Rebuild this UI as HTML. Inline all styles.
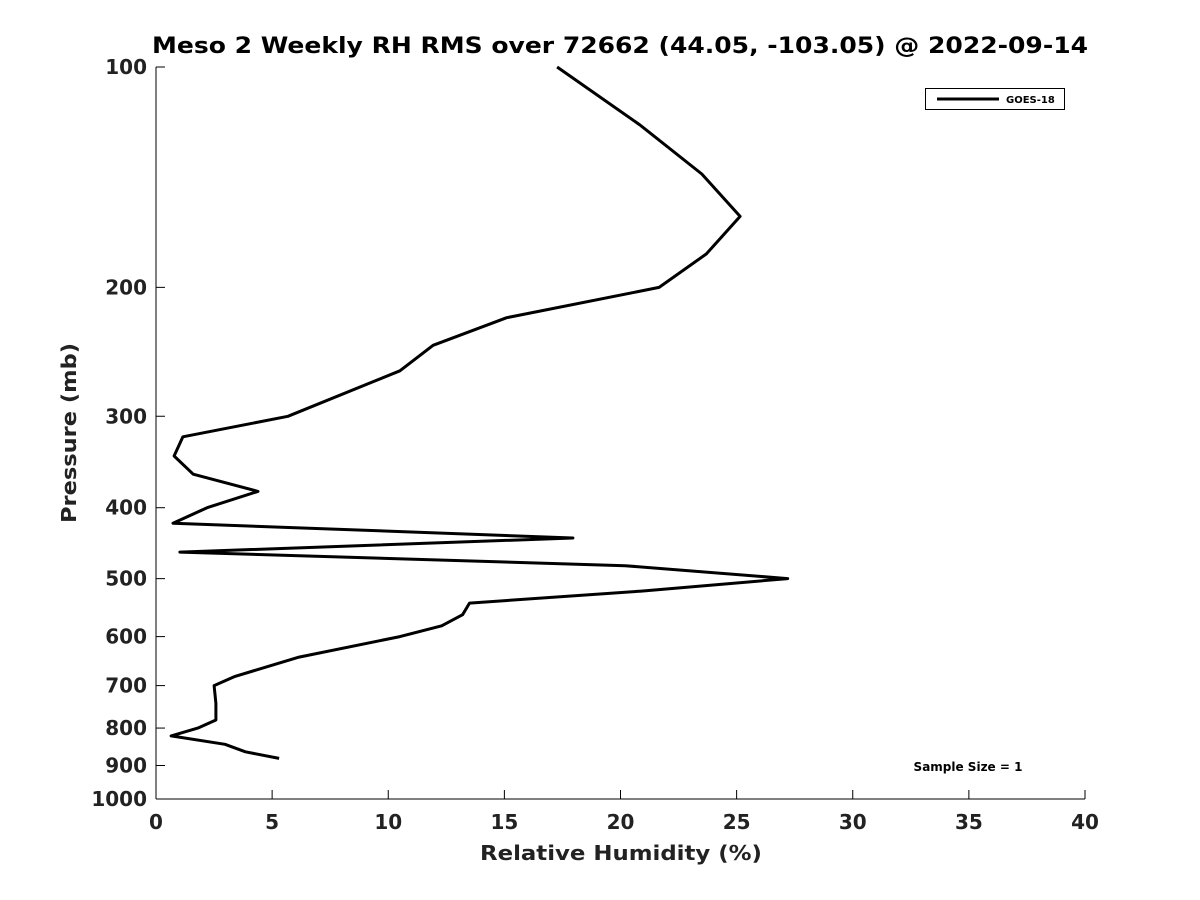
<!DOCTYPE html>
<html><head><meta charset="utf-8"><style>body{margin:0;background:#fff}svg{display:block;font-family:"DejaVu Sans","Liberation Sans",sans-serif}</style></head>
<body>
<svg id="chart" width="1200" height="900" viewBox="0 0 1200 900">
<text x="620" y="53" text-anchor="middle" font-size="22" font-weight="bold" textLength="936" lengthAdjust="spacingAndGlyphs">Meso 2 Weekly RH RMS over 72662 (44.05, -103.05) @ 2022-09-14</text>
<g id="axes"></g>
<path id="line" fill="none" stroke="#000" stroke-width="3" stroke-linejoin="round"/>
<text x="621" y="860" text-anchor="middle" font-size="20" font-weight="bold" fill="#222" textLength="282" lengthAdjust="spacingAndGlyphs">Relative Humidity (%)</text>
<text transform="translate(76,433) rotate(-90)" text-anchor="middle" font-size="20" font-weight="bold" fill="#222" textLength="180" lengthAdjust="spacingAndGlyphs">Pressure (mb)</text>
<g>
<rect x="925.5" y="88.5" width="139" height="21" fill="#fff" stroke="#000" stroke-width="1"/>
<line x1="937" y1="99" x2="999" y2="99" stroke="#000" stroke-width="3"/>
<text x="1006" y="103" font-size="10" font-weight="bold">GOES-18</text>
</g>
<text x="968" y="771" text-anchor="middle" font-size="12" font-weight="bold">Sample Size = 1</text>
</svg>
<script>
const rh=[17.27,20.84,23.5,25.15,23.7,21.66,15.1,11.93,10.5,5.68,1.16,0.78,1.6,4.39,2.2,0.73,17.95,1.03,20.2,27.2,20.9,13.5,13.2,12.3,10.5,6.16,3.4,2.5,2.58,2.58,1.8,0.65,2.97,3.85,5.3];
const pres=[100,120,140,160,180,200,220,240,260,300,320,340,360,380,400,420,440,460,480,500,520,540,560,580,600,640,680,700,740,780,800,820,842,862,880];
const xTicks=[0,5,10,15,20,25,30,35,40];
const yTicks=[100,200,300,400,500,600,700,800,900,1000];
const X0=156,X1=1085,Y0=67,Y1=799;
const xs=v=>X0+(v/40)*(X1-X0);
const ys=p=>Y0+Math.log10(p/100)*(Y1-Y0);
const ns="http://www.w3.org/2000/svg";
const ax=document.getElementById('axes');
function mk(t,a){const e=document.createElementNS(ns,t);for(const k in a)e.setAttribute(k,a[k]);ax.appendChild(e);return e;}
let l=mk('line',{x1:X0,y1:Y0,x2:X0,y2:Y1,stroke:'#000','stroke-width':1});


l=mk('line',{x1:X0,y1:Y1,x2:X1,y2:Y1,stroke:'#000','stroke-width':1});


xTicks.forEach(v=>{const x=xs(v);
 mk('line',{x1:x,y1:Y1,x2:x,y2:Y1-9,stroke:'#000'});
 const t=mk('text',{x:x,y:829,'text-anchor':'middle','font-size':20,'font-weight':'bold',fill:'#222'});t.textContent=v;
 
 });
yTicks.forEach(p=>{const y=ys(p);
 mk('line',{x1:X0,y1:y,x2:X0+9,y2:y,stroke:'#000'});
 const t=mk('text',{x:147,y:y+7,'text-anchor':'end','font-size':20,'font-weight':'bold',fill:'#222'});t.textContent=p;
 
 });
document.getElementById('line').setAttribute('d',rh.map((v,i)=>(i?'L':'M')+xs(v).toFixed(1)+','+ys(pres[i]).toFixed(1)).join(''));
</script>
</body></html>
